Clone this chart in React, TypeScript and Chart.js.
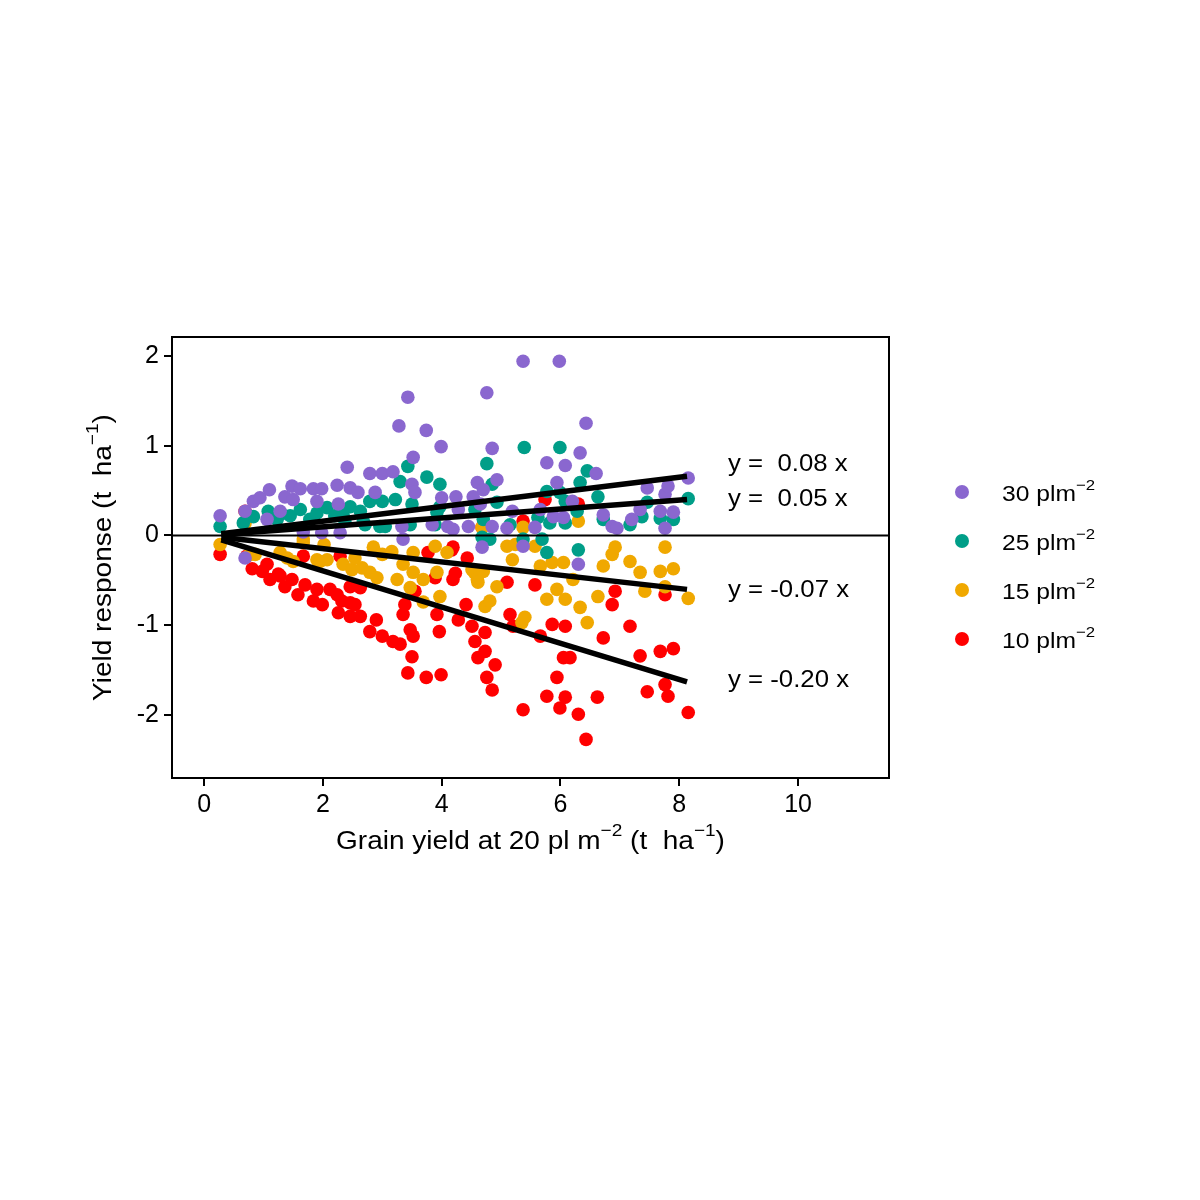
import React, { useEffect, useRef } from "react";
import { Chart, registerables } from "chart.js";

Chart.register(...registerables);

// data (x = grain yield at 20 pl m-2, y = yield response)
const d30: [number, number][] = [
  [0.27, 0.22], [0.69, 0.27], [0.69, -0.25], [0.83, 0.38], [0.94, 0.42], [1.06, 0.18], [1.1, 0.51],
  [1.28, 0.27], [1.36, 0.43], [1.48, 0.55], [1.5, 0.4], [1.62, 0.52], [1.67, 0.04], [1.84, 0.52],
  [1.9, 0.38], [1.98, 0.52], [1.98, 0.03], [2.24, 0.56], [2.26, 0.35], [2.29, 0.03], [2.41, 0.76],
  [2.46, 0.53], [2.59, 0.48], [2.79, 0.69], [2.88, 0.48], [3.0, 0.69], [3.18, 0.71], [3.28, 1.22],
  [3.33, 0.1], [3.35, -0.04], [3.43, 1.54], [3.5, 0.57], [3.52, 0.87], [3.55, 0.48], [3.74, 1.17],
  [3.84, 0.12], [3.99, 0.99], [4.0, 0.42], [4.1, 0.1], [4.19, 0.07], [4.24, 0.43], [4.28, 0.29],
  [4.45, 0.1], [4.53, 0.43], [4.6, 0.59], [4.65, 0.35], [4.68, -0.13], [4.7, 0.51], [4.76, 1.59],
  [4.85, 0.97], [4.85, 0.1], [4.93, 0.62], [5.1, 0.08], [5.19, 0.27], [5.37, 1.94], [5.37, -0.12],
  [5.57, 0.09], [5.66, 0.29], [5.77, 0.81], [5.88, 0.21], [5.94, 0.59], [5.98, 1.94], [6.05, 0.2],
  [6.08, 0.78], [6.2, 0.38], [6.3, -0.32], [6.33, 0.92], [6.43, 1.25], [6.6, 0.69], [6.72, 0.23],
  [6.87, 0.1], [6.95, 0.08], [7.2, 0.18], [7.34, 0.29], [7.46, 0.53], [7.68, 0.27], [7.76, 0.46],
  [7.76, 0.08], [7.81, 0.55], [7.9, 0.26], [8.15, 0.64],
];

const d25: [number, number][] = [
  [0.27, 0.1], [0.66, 0.14], [0.83, 0.21], [1.08, 0.27], [1.23, 0.18], [1.3, 0.24], [1.45, 0.22],
  [1.62, 0.29], [1.78, 0.18], [1.9, 0.25], [2.07, 0.31], [2.2, 0.22], [2.34, 0.23], [2.37, 0.16],
  [2.46, 0.32], [2.63, 0.27], [2.68, 0.16], [2.71, 0.12], [2.79, 0.38], [2.96, 0.1], [3.0, 0.38],
  [3.05, 0.1], [3.22, 0.4], [3.3, 0.6], [3.43, 0.77], [3.47, 0.12], [3.5, 0.35], [3.75, 0.65],
  [3.89, 0.12], [3.92, 0.26], [3.97, 0.57], [3.97, 0.32], [4.56, 0.29], [4.68, -0.02], [4.7, 0.18],
  [4.76, 0.8], [4.81, -0.04], [4.85, 0.57], [4.93, 0.37], [5.15, 0.12], [5.37, -0.04], [5.39, 0.98],
  [5.62, 0.2], [5.69, -0.04], [5.77, 0.49], [5.77, -0.19], [5.82, 0.14], [5.99, 0.98], [5.99, 0.48],
  [6.08, 0.38], [6.08, 0.14], [6.28, 0.27], [6.3, -0.16], [6.33, 0.59], [6.45, 0.72], [6.63, 0.43],
  [6.72, 0.18], [7.17, 0.12], [7.37, 0.21], [7.46, 0.37], [7.68, 0.19], [7.9, 0.18], [8.15, 0.41],
];

const d15: [number, number][] = [
  [0.27, -0.1], [0.69, 0.14], [0.77, -0.21], [0.86, -0.21], [1.28, -0.19], [1.4, -0.25], [1.5, -0.29],
  [1.67, -0.04], [1.67, -0.08], [1.9, -0.27], [1.95, -0.29], [2.07, -0.27], [2.02, -0.1], [2.34, -0.32],
  [2.49, -0.38], [2.54, -0.25], [2.66, -0.36], [2.79, -0.41], [2.85, -0.13], [2.91, -0.47], [3.0, -0.21],
  [3.16, -0.18], [3.25, -0.49], [3.35, -0.32], [3.47, -0.58], [3.52, -0.19], [3.52, -0.41], [3.69, -0.49],
  [3.69, -0.74], [3.89, -0.12], [3.92, -0.41], [3.97, -0.68], [4.09, -0.19], [4.51, -0.38], [4.55, -0.41],
  [4.6, -0.49], [4.61, -0.52], [4.68, 0.09], [4.7, -0.4], [4.73, -0.79], [4.81, -0.73], [4.93, -0.57],
  [5.1, -0.12], [5.19, -0.27], [5.24, -0.1], [5.35, -0.97], [5.37, 0.09], [5.4, -0.91], [5.57, -0.12],
  [5.66, -0.34], [5.77, -0.71], [5.86, -0.3], [5.94, -0.6], [6.05, -0.3], [6.08, -0.71], [6.21, -0.49],
  [6.3, 0.16], [6.33, -0.8], [6.45, -0.97], [6.63, -0.68], [6.72, -0.34], [6.87, -0.21], [6.92, -0.13],
  [7.17, -0.29], [7.34, -0.41], [7.42, -0.62], [7.68, -0.4], [7.76, -0.13], [7.76, -0.57], [7.9, -0.37],
  [8.15, -0.7],
];

const d10: [number, number][] = [
  [0.27, -0.21], [0.69, 0.27], [0.72, -0.23], [0.81, -0.37], [0.98, -0.4], [1.06, -0.32], [1.11, -0.49],
  [1.25, -0.43], [1.28, -0.45], [1.36, -0.57], [1.48, -0.49], [1.58, -0.66], [1.67, -0.23], [1.7, -0.55],
  [1.84, -0.73], [1.9, -0.6], [1.99, -0.77], [2.12, -0.6], [2.24, -0.66], [2.26, -0.86], [2.29, -0.23],
  [2.32, -0.73], [2.46, -0.57], [2.46, -0.75], [2.46, -0.9], [2.54, -0.77], [2.63, -0.58], [2.63, -0.9],
  [2.79, -1.07], [2.9, -0.94], [3.0, -1.12], [3.18, -1.18], [3.3, -1.21], [3.35, -0.88], [3.38, -0.77],
  [3.43, -1.53], [3.47, -1.05], [3.5, -1.35], [3.52, -1.12], [3.55, -0.62], [3.74, -1.58], [3.77, -0.19],
  [3.89, -0.47], [3.92, -0.88], [3.96, -1.07], [3.99, -1.55], [4.17, -0.16], [4.19, -0.13], [4.19, -0.49],
  [4.23, -0.42], [4.28, -0.94], [4.41, -0.77], [4.43, -0.25], [4.51, -1.01], [4.56, -1.18], [4.61, -1.36],
  [4.68, 0.09], [4.73, -1.08], [4.73, -1.29], [4.76, -1.58], [4.85, -1.72], [4.9, -1.44], [5.1, -0.52],
  [5.15, -0.88], [5.2, -1.01], [5.37, 0.16], [5.37, -1.94], [5.57, -0.55], [5.66, -1.12], [5.74, 0.4],
  [5.77, -1.79], [5.86, -0.99], [5.94, -1.58], [5.99, -1.92], [6.05, -1.36], [6.08, -1.01], [6.08, -1.8],
  [6.16, -1.36], [6.3, 0.35], [6.3, -1.99], [6.43, -2.27], [6.62, -1.8], [6.72, -1.14], [6.87, -0.77],
  [6.92, -0.62], [7.17, -1.01], [7.34, -1.34], [7.46, -1.74], [7.68, -1.29], [7.76, -0.66], [7.76, -1.66],
  [7.81, -1.79], [7.9, -1.26], [8.15, -1.97],
];

const seriesLabels = ["30 plm", "25 plm", "15 plm", "10 plm"];
const seriesColors = ["#8A67CF", "#009E88", "#F0A800", "#FF0000"];

// fitted lines: start / end
const fitX = [0.29, 8.13];
const fitY0 = [0.02, 0.01, -0.02, -0.05];
const fitY1 = [0.66, 0.4, -0.6, -1.63];
const eqLabels = ["y =  0.08 x", "y =  0.05 x", "y = -0.07 x", "y = -0.20 x"];
const eqLabelX = 8.82;
const eqLabelY = [0.79, 0.4, -0.61, -1.62];

const xTicks = [0, 2, 4, 6, 8, 10];
const yTicks = [-2, -1, 0, 1, 2];
const xRange = [-0.54, 11.53];
const yRange = [-2.7, 2.21];

const FONT = "'Liberation Sans', Arial, sans-serif";
const STRETCH = 1.12; // the reference type is a little wide

type Seg = [string, boolean];

function segFont(size: number, sup: boolean) {
  return `${sup ? Math.round(size * 0.68) : size}px ${FONT}`;
}

function drawRich(ctx: CanvasRenderingContext2D, segs: Seg[], x: number, y: number, size: number, align: "left" | "center") {
  let w = 0;
  for (const [t, sup] of segs) {
    ctx.font = segFont(size, sup);
    w += ctx.measureText(t).width;
  }
  ctx.save();
  ctx.translate(align === "center" ? x - (w * STRETCH) / 2 : x, y);
  ctx.scale(STRETCH, 1);
  ctx.textAlign = "left";
  ctx.textBaseline = "middle";
  let cx = 0;
  for (const [t, sup] of segs) {
    ctx.font = segFont(size, sup);
    ctx.fillText(t, cx, sup ? -size * 0.42 : 0);
    cx += ctx.measureText(t).width;
  }
  ctx.restore();
}

const overlay = {
  id: "overlay",
  afterDraw(chart: any) {
    const { ctx, chartArea: a, scales } = chart;
    ctx.save();
    ctx.strokeStyle = "#000";
    ctx.lineWidth = 2;
    ctx.strokeRect(a.left, a.top, a.right - a.left, a.bottom - a.top);
    ctx.fillStyle = "#000";

    eqLabels.forEach((t, i) => {
      drawRich(ctx, [[t, false]], scales.x.getPixelForValue(eqLabelX), scales.y.getPixelForValue(eqLabelY[i]), 23, "left");
    });

    drawRich(ctx, [["Grain yield at 20 pl m", false], ["\u22122", true], [" (t  ha", false], ["\u22121", true], [")", false]],
      (a.left + a.right) / 2, a.bottom + 64, 25, "center");

    ctx.save();
    ctx.translate(a.left - 68, (a.top + a.bottom) / 2);
    ctx.rotate(-Math.PI / 2);
    drawRich(ctx, [["Yield response (t  ha", false], ["\u22121", true], [")", false]], 0, 0, 25, "center");
    ctx.restore();

    seriesLabels.forEach((lab, i) => {
      const ly = a.top + 155 + i * 49;
      ctx.beginPath();
      ctx.fillStyle = seriesColors[i];
      ctx.arc(a.right + 73, ly, 7, 0, Math.PI * 2);
      ctx.fill();
      ctx.fillStyle = "#000";
      drawRich(ctx, [[lab, false], ["\u22122", true]], a.right + 113, ly + 3, 22, "left");
    });
    ctx.restore();
  },
};

const App: React.FC = () => {
  const canvasRef = useRef<HTMLCanvasElement>(null);

  useEffect(() => {
    document.body.style.margin = "0";
    if (!canvasRef.current) return;

    const pts = (arr: [number, number][]) => arr.map(([x, y]) => ({ x, y }));
    const seriesData = [d30, d25, d15, d10];

    const lineSets = fitY0.map((y0, i) => ({
      label: eqLabels[i],
      data: [{ x: fitX[0], y: y0 }, { x: fitX[1], y: fitY1[i] }],
      showLine: true,
      borderColor: "#000",
      borderWidth: 5.5,
      pointRadius: 0,
    }));

    const chart = new Chart(canvasRef.current, {
      type: "scatter",
      data: {
        datasets: [
          ...lineSets,
          {
            label: "zero",
            data: [{ x: xRange[0], y: 0 }, { x: xRange[1], y: 0 }],
            showLine: true,
            borderColor: "#000",
            borderWidth: 2,
            pointRadius: 0,
          },
          ...seriesData.map((d, i) => ({
            label: seriesLabels[i],
            data: pts(d),
            backgroundColor: seriesColors[i],
            borderWidth: 0,
            pointRadius: 6.8,
          })),
        ],
      },
      options: {
        animation: false,
        responsive: true,
        maintainAspectRatio: false,
        layout: { padding: { left: 117, right: 311, top: 337, bottom: 382 } },
        plugins: { legend: { display: false }, tooltip: { enabled: false } },
        scales: {
          x: {
            type: "linear",
            min: xRange[0],
            max: xRange[1],
            afterBuildTicks: (s: any) => { s.ticks = xTicks.map((v) => ({ value: v })); },
            afterFit: (s: any) => { s.height = 40; },
            ticks: { color: "#000", font: { family: FONT, size: 25 }, padding: 4, callback: (v: any) => String(v) },
            grid: { drawOnChartArea: false, drawTicks: true, tickLength: 8, color: "#000", lineWidth: 2 },
            border: { display: true, color: "#000", width: 2 },
          },
          y: {
            type: "linear",
            min: yRange[0],
            max: yRange[1],
            afterBuildTicks: (s: any) => { s.ticks = yTicks.map((v) => ({ value: v })); },
            afterFit: (s: any) => { s.width = 55; },
            ticks: { color: "#000", font: { family: FONT, size: 25 }, padding: 5, callback: (v: any) => String(v) },
            grid: { drawOnChartArea: false, drawTicks: true, tickLength: 8, color: "#000", lineWidth: 2 },
            border: { display: true, color: "#000", width: 2 },
          },
        },
      },
      plugins: [overlay],
    });

    return () => chart.destroy();
  }, []);

  return (
    <div style={{ width: 1200, height: 1200, position: "relative", background: "#fff" }}>
      <canvas ref={canvasRef} />
    </div>
  );
};

export default App;
